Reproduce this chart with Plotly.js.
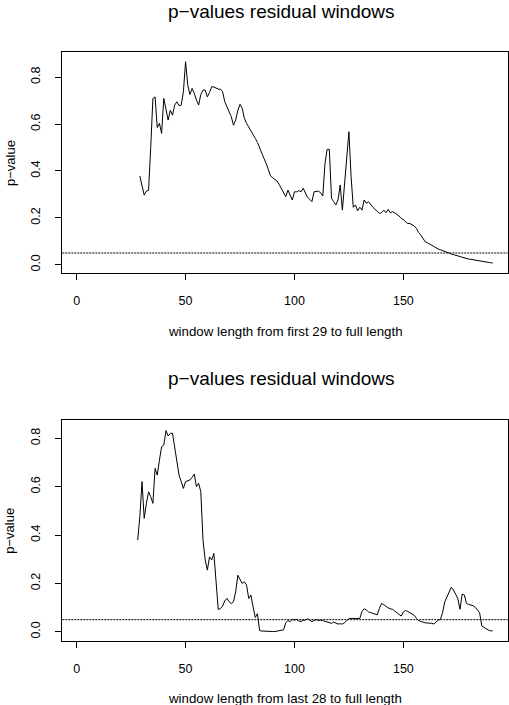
<!DOCTYPE html>
<html>
<head>
<meta charset="utf-8">
<script src="https://cdn.plot.ly/plotly-3.0.1.min.js"></script>
<style>
  body { margin: 0; background: #fff; }
  #chart { width: 509px; height: 705px; }
</style>
</head>
<body>
<div id="chart"></div>
<script>
// p-values, window growing from the first 29 obs (x = 29..191)
let firstStart = 29;
let pFirst = [
  0.378,0.333,0.297,0.314,0.317,0.500,0.709,0.716,0.585,0.603,
  0.560,0.709,0.659,0.617,0.659,0.638,0.681,0.695,0.678,0.681,
  0.738,0.866,0.766,0.726,0.752,0.731,0.702,0.681,0.726,0.745,
  0.745,0.716,0.735,0.759,0.758,0.752,0.749,0.749,0.738,0.695,
  0.674,0.652,0.631,0.595,0.617,0.659,0.684,0.667,0.624,0.603,
  0.588,0.570,0.560,0.539,0.522,0.496,0.479,0.453,0.432,0.404,
  0.379,0.371,0.365,0.357,0.342,0.325,0.304,0.290,0.318,0.300,
  0.276,0.311,0.311,0.316,0.311,0.326,0.304,0.287,0.279,0.269,
  0.311,0.314,0.314,0.307,0.293,0.432,0.492,0.492,0.283,0.269,
  0.255,0.276,0.340,0.233,0.347,0.461,0.567,0.375,0.245,0.255,
  0.230,0.245,0.233,0.276,0.262,0.269,0.255,0.245,0.236,0.228,
  0.219,0.222,0.233,0.222,0.236,0.222,0.226,0.222,0.216,0.208,
  0.198,0.193,0.183,0.176,0.176,0.172,0.165,0.155,0.137,0.127,
  0.111,0.098,0.094,0.088,0.083,0.077,0.071,0.067,0.064,0.060,
  0.056,0.051,0.048,0.046,0.043,0.040,0.037,0.034,0.031,0.029,
  0.027,0.024,0.023,0.021,0.020,0.019,0.017,0.014,0.013,0.011,
  0.010,0.009,0.007
];

// p-values, window growing from the last 28 obs (x = 28..191)
let lastStart = 28;
let pLast = [
  0.379,0.476,0.621,0.469,0.531,0.579,0.559,0.531,0.676,0.648,
  0.710,0.766,0.772,0.832,0.810,0.821,0.821,0.766,0.697,0.648,
  0.621,0.593,0.621,0.625,0.628,0.639,0.652,0.600,0.614,0.579,
  0.379,0.297,0.255,0.310,0.297,0.324,0.186,0.092,0.096,0.106,
  0.128,0.138,0.124,0.117,0.124,0.165,0.234,0.217,0.200,0.207,
  0.193,0.138,0.152,0.103,0.059,0.075,0.005,0.003,0.002,0.002,
  0.001,0.001,0.001,0.001,0.002,0.003,0.006,0.008,0.037,0.046,
  0.042,0.051,0.048,0.051,0.044,0.043,0.047,0.048,0.054,0.046,
  0.042,0.047,0.050,0.046,0.048,0.046,0.043,0.042,0.037,0.035,
  0.040,0.035,0.032,0.033,0.032,0.037,0.048,0.055,0.055,0.055,
  0.055,0.054,0.055,0.084,0.095,0.090,0.082,0.079,0.077,0.073,
  0.070,0.097,0.117,0.112,0.104,0.099,0.095,0.093,0.086,0.079,
  0.072,0.065,0.082,0.088,0.084,0.079,0.072,0.068,0.055,0.046,
  0.043,0.039,0.037,0.036,0.037,0.035,0.032,0.039,0.048,0.051,
  0.079,0.124,0.145,0.162,0.184,0.173,0.155,0.137,0.093,0.156,
  0.152,0.117,0.113,0.110,0.108,0.101,0.090,0.079,0.024,0.018,
  0.015,0.007,0.004,0.004
];

let alpha = 0.05;

let xTicks = [0, 50, 100, 150];
let xTickText = ['0', '50', '100', '150'];
let yTicks = [0, 0.2, 0.4, 0.6, 0.8];
let yTickText = ['0.0', '0.2', '0.4', '0.6', '0.8'];

let mainTitle = 'p\u2212values residual windows';
let yLabel = 'p\u2212value';
let xLabelFirst = 'window length from first 29 to full length';
let xLabelLast = 'window length from last 28 to full length';

let lenFirst = [];
for (let i = 0; i < pFirst.length; i++) lenFirst.push(firstStart + i);
let lenLast = [];
for (let i = 0; i < pLast.length; i++) lenLast.push(lastStart + i);

let W = 509, H = 705;
let FONT = 'Liberation Sans, Arial, Helvetica, sans-serif';
let xDom = [62.3 / W, 507.7 / W];
let yDomTop = [1 - 272.7 / H, 1 - 52.3 / H];
let yDomBot = [1 - 640.7 / H, 1 - 420 / H];

function axisX(anchor) {
  return {
    domain: xDom, anchor: anchor, range: [-6.6, 197.9],
    tickvals: xTicks, ticktext: xTickText,
    ticks: 'outside', ticklen: 6, tickwidth: 1, tickcolor: '#000',
    ticklabelstandoff: 10,
    showline: true, mirror: true, linecolor: '#000', linewidth: 1,
    showgrid: false, zeroline: false,
    tickfont: {family: FONT, size: 12.5, color: '#000'}
  };
}
function axisY(anchor, dom, range) {
  return {
    domain: dom, anchor: anchor, range: range,
    tickvals: yTicks, ticktext: yTickText, tickangle: -90,
    ticks: 'outside', ticklen: 6, tickwidth: 1, tickcolor: '#000',
    ticklabelstandoff: 10,
    showline: true, mirror: true, linecolor: '#000', linewidth: 1,
    showgrid: false, zeroline: false,
    tickfont: {family: FONT, size: 12.5, color: '#000'}
  };
}

let traces = [
  {x: lenFirst, y: pFirst, xaxis: 'x', yaxis: 'y', type: 'scatter', mode: 'lines',
   line: {color: '#000', width: 1}, hoverinfo: 'skip'},
  {x: lenLast, y: pLast, xaxis: 'x2', yaxis: 'y2', type: 'scatter', mode: 'lines',
   line: {color: '#000', width: 1}, hoverinfo: 'skip'}
];

function label(text, x, y, size, angle) {
  return {text: text, xref: 'paper', yref: 'paper', x: x, y: y,
    xanchor: 'center', yanchor: 'middle', showarrow: false, textangle: angle || 0,
    font: {family: FONT, size: size, color: '#000'}};
}

let layout = {
  width: W, height: H,
  margin: {l: 0, r: 0, t: 0, b: 0, pad: 0},
  paper_bgcolor: '#fff', plot_bgcolor: '#fff',
  showlegend: false,
  xaxis: axisX('y'),
  yaxis: axisY('x', yDomTop, [-0.034, 0.906]),
  xaxis2: axisX('y2'),
  yaxis2: axisY('x2', yDomBot, [-0.037, 0.876]),
  shapes: [
    {type: 'line', xref: 'paper', yref: 'y', x0: xDom[0], x1: xDom[1], y0: alpha, y1: alpha,
     line: {color: '#000', width: 1, dash: '2px,1px'}},
    {type: 'line', xref: 'paper', yref: 'y2', x0: xDom[0], x1: xDom[1], y0: alpha, y1: alpha,
     line: {color: '#000', width: 1, dash: '2px,1px'}}
  ],
  annotations: [
    label(mainTitle, 281 / W, 1 - 11 / H, 19),
    label(xLabelFirst, 285 / W, 1 - 331 / H, 13.3),
    label(yLabel, 10 / W, 1 - 163 / H, 13, -90),
    label(mainTitle, 281 / W, 1 - 378.7 / H, 19),
    label(xLabelLast, 285 / W, 1 - 698.7 / H, 13.3),
    label(yLabel, 10 / W, 1 - 530.7 / H, 13, -90)
  ]
};

Plotly.newPlot('chart', traces, layout, {staticPlot: true, displayModeBar: false});
</script>
</body>
</html>
